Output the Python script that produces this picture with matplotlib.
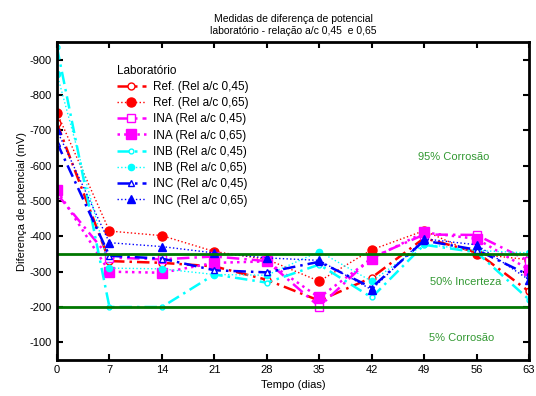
import matplotlib
matplotlib.use('Agg')
import matplotlib.pyplot as plt

plt.rcParams['font.family'] = ['Liberation Sans', 'DejaVu Sans']
plt.rcParams['axes.unicode_minus'] = False

# %% Data (mV)
dias = [0, 7, 14, 21, 28, 35, 42, 49, 56, 63]

ref_045 = [-720, -330, -325, -315, -277, -218, -283, -395, -355, -244]
ref_065 = [-750, -415, -402, -357, -335, -273, -362, -416, -350, -334]
ina_045 = [-520, -340, -335, -343, -330, -201, -340, -405, -404, -330]
ina_065 = [-530, -300, -297, -325, -329, -227, -337, -411, -393, -306]
inb_045 = [-935, -200, -200, -292, -269, -320, -227, -376, -355, -221]
inb_065 = [-860, -310, -308, -292, -290, -357, -273, -378, -360, -353]
inc_045 = [-665, -345, -337, -304, -298, -328, -255, -388, -362, -290]
inc_065 = [-700, -382, -371, -353, -339, -332, -249, -393, -376, -277]

limites = [-350, -200]

# %% Plot
fig = plt.figure(figsize=(5.36, 3.96), dpi=100)
ax = fig.add_axes([0.1063, 0.0909, 0.8807, 0.803])

ax.plot(dias, ref_045, color='red', linestyle=(0, (5, 2, 1, 2)), linewidth=1.8,
        marker='o', markersize=5, markerfacecolor='white', markeredgecolor='red',
        label='Ref. (Rel a/c 0,45)')
ax.plot(dias, ref_065, color='red', linestyle=':', linewidth=1,
        marker='o', markersize=6.5, label='Ref. (Rel a/c 0,65)')
ax.plot(dias, ina_045, color='magenta', linestyle=(0, (5, 2, 1, 2)), linewidth=1.8,
        marker='s', markersize=6, markerfacecolor='white', markeredgecolor='magenta',
        label='INA (Rel a/c 0,45)')
ax.plot(dias, ina_065, color='magenta', linestyle=':', linewidth=1.8,
        marker='s', markersize=6.5, label='INA (Rel a/c 0,65)')
ax.plot(dias, inb_045, color='cyan', linestyle=(0, (5, 2, 1, 2)), linewidth=1.8,
        marker='o', markersize=3.5, markerfacecolor='white', markeredgecolor='cyan',
        label='INB (Rel a/c 0,45)')
ax.plot(dias, inb_065, color='cyan', linestyle=':', linewidth=1,
        marker='o', markersize=4.5, label='INB (Rel a/c 0,65)')
ax.plot(dias, inc_045, color='blue', linestyle=(0, (5, 2, 1, 2)), linewidth=1.8,
        marker='^', markersize=5, markerfacecolor='white', markeredgecolor='blue',
        label='INC (Rel a/c 0,45)')
ax.plot(dias, inc_065, color='blue', linestyle=':', linewidth=1,
        marker='^', markersize=6, label='INC (Rel a/c 0,65)')

for lim in limites:
    ax.axhline(lim, color='#007700', linewidth=2)

ax.text(53, -624, '95% Corrosão', color='#339933', fontsize=8, ha='center', va='center')
ax.text(54.5, -272, '50% Incerteza', color='#339933', fontsize=8, ha='center', va='center')
ax.text(54, -111, '5% Corrosão', color='#339933', fontsize=8, ha='center', va='center')

ax.set_xlim(0, 63)
ax.set_ylim(-50, -950)
ax.set_xticks(dias)
ax.set_yticks([-900, -800, -700, -600, -500, -400, -300, -200, -100])
ax.tick_params(direction='in', top=True, right=True, labelsize=8, width=1.5, length=4)
for sp in ax.spines.values():
    sp.set_linewidth(2)

ax.set_xlabel('Tempo (dias)', fontsize=8, labelpad=4)
ax.set_ylabel('Diferença de potencial (mV)', fontsize=8, labelpad=2)
ax.set_title('Medidas de diferença de potencial\nlaboratório - relação a/c 0,45  e 0,65',
             fontsize=7.5, pad=6)

leg = ax.legend(title='Laboratório', loc='upper left', bbox_to_anchor=(0.11, 0.955),
                frameon=False, fontsize=8.5, title_fontsize=8.5,
                handlelength=2.4, labelspacing=0.36, borderpad=0.2, handletextpad=0.6)
leg._legend_box.align = 'left'

plt.savefig('out.png', dpi=100)
plt.close(fig)
